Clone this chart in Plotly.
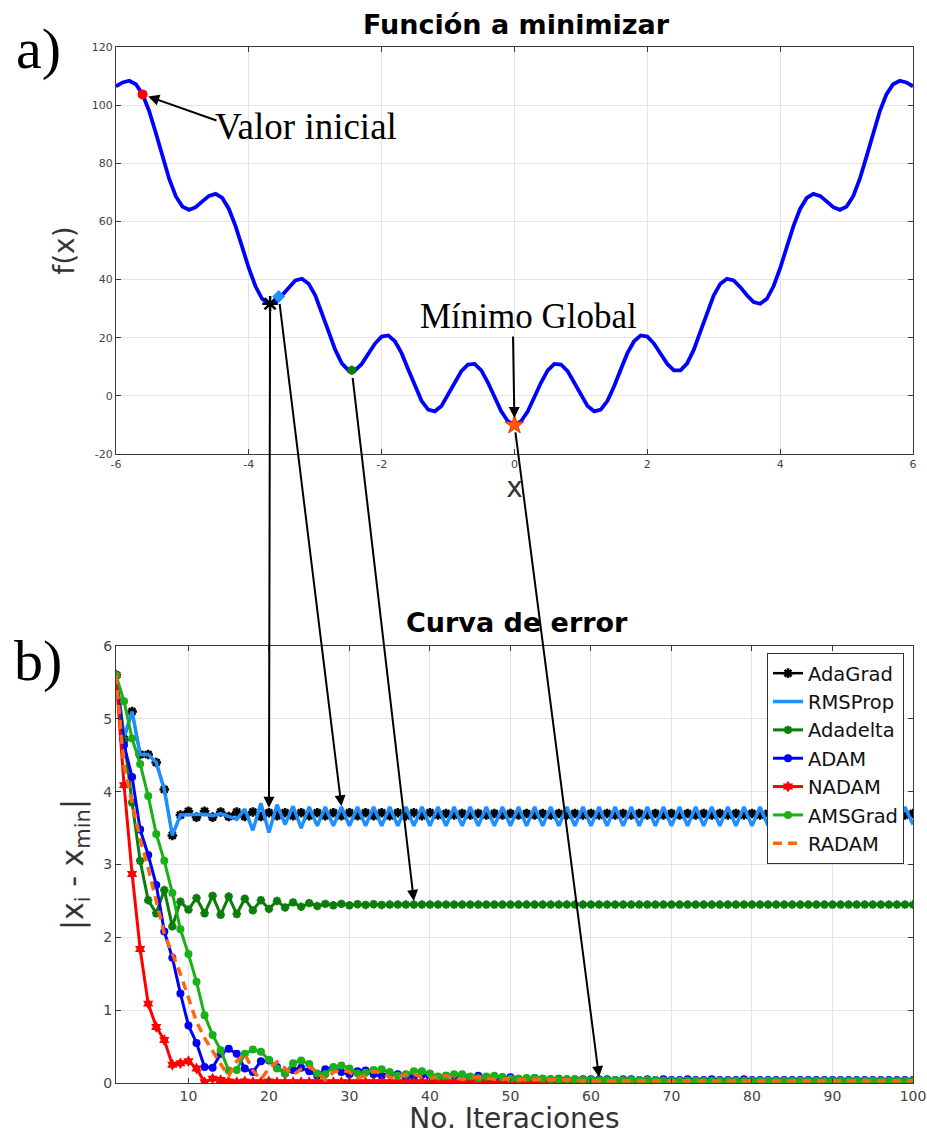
import plotly.graph_objects as go

# ---------------- data ----------------
# f(x) sampled on [-6, 6], step 0.1
X_F = [round(-6 + 0.1 * i, 1) for i in range(121)]
F_X = [106.5, 107.8, 108.4, 107.2, 103.7, 97.9, 90.4, 82.3, 74.7, 68.7,
       65.1, 64.0, 64.9, 66.9, 68.8, 69.5, 68.1, 64.3, 58.4, 51.2,
       43.9, 37.7, 33.4, 31.7, 32.3, 34.6, 37.4, 39.7, 40.3, 38.6,
       34.6, 28.8, 22.2, 15.9, 11.2, 8.8, 8.8, 11.0, 14.5, 18.0,
       20.4, 20.8, 18.8, 14.7, 9.1, 3.3, -1.7, -4.7, -5.3, -3.5,
       0.2, 4.5, 8.5, 10.8, 11.0, 8.8, 4.6, -0.4, -5.3, -8.7,
       -10.0,
       -8.7, -5.3, -0.4, 4.6, 8.8, 11.0, 10.8, 8.5, 4.5, 0.2,
       -3.5, -5.3, -4.7, -1.7, 3.3, 9.1, 14.7, 18.8, 20.8, 20.4,
       18.0, 14.5, 11.0, 8.8, 8.8, 11.2, 15.9, 22.2, 28.8, 34.6,
       38.6, 40.3, 39.7, 37.4, 34.6, 32.3, 31.7, 33.4, 37.7, 43.9,
       51.2, 58.4, 64.3, 68.1, 69.5, 68.8, 66.9, 64.9, 64.0, 65.1,
       68.7, 74.7, 82.3, 90.4, 97.9, 103.7, 107.2, 108.4, 107.8, 106.5]

TOP_XTICKS = [-6, -4, -2, 0, 2, 4, 6]
TOP_XLABELS = ["-6", "-4", "-2", "0", "2", "4", "6"]
TOP_YTICKS = [-20, 0, 20, 40, 60, 80, 100, 120]
TOP_YLABELS = ["-20", "0", "20", "40", "60", "80", "100", "120"]

# starting point and end points reached by the optimizers
X0, F0 = -5.6, 103.7
END_X = {"AdaGrad": -3.68, "RMSProp": -3.55, "Adadelta": -2.45, "Global": 0.0}
END_F = {"AdaGrad": 31.7, "RMSProp": 34.2, "Adadelta": 8.8, "Global": -10.0}

ITER = list(range(1, 101))
BOT_XTICKS = [10, 20, 30, 40, 50, 60, 70, 80, 90, 100]

ADAGRAD = [5.60, 4.72, 5.10, 4.51, 4.51, 4.40, 4.03, 3.40, 3.68, 3.73,
           3.65, 3.73, 3.65, 3.72, 3.66, 3.72, 3.66, 3.72, 3.66, 3.71,
           3.67, 3.71, 3.67, 3.71, 3.67, 3.71, 3.67, 3.71, 3.67, 3.71,
           3.67, 3.71, 3.67, 3.71, 3.67, 3.71, 3.67, 3.71, 3.67, 3.71,
           3.68, 3.70, 3.68, 3.70, 3.68, 3.70, 3.68, 3.70, 3.68, 3.70,
           3.68, 3.70, 3.68, 3.70, 3.68, 3.70, 3.68, 3.70, 3.68, 3.70,
           3.68, 3.70, 3.68, 3.70, 3.68, 3.70, 3.68, 3.70, 3.68, 3.70,
           3.68, 3.70, 3.68, 3.70, 3.68, 3.70, 3.68, 3.70, 3.68, 3.70,
           3.68, 3.70, 3.68, 3.70, 3.68, 3.70, 3.68, 3.70, 3.68, 3.70,
           3.68, 3.70, 3.68, 3.70, 3.68, 3.70, 3.68, 3.70, 3.68, 3.70]

RMSPROP = [5.60, 4.75, 5.10, 4.51, 4.51, 4.40, 4.03, 3.40, 3.68, 3.68,
           3.68, 3.69, 3.67, 3.70, 3.66, 3.62, 3.76, 3.47, 3.84, 3.44,
           3.82, 3.55, 3.80, 3.50, 3.79, 3.53, 3.79, 3.53, 3.79, 3.53,
           3.79, 3.53, 3.79, 3.53, 3.79, 3.53, 3.79, 3.53, 3.79, 3.53,
           3.79, 3.53, 3.79, 3.53, 3.79, 3.53, 3.79, 3.53, 3.79, 3.53,
           3.79, 3.53, 3.79, 3.53, 3.79, 3.53, 3.79, 3.53, 3.79, 3.53,
           3.79, 3.53, 3.79, 3.53, 3.79, 3.53, 3.79, 3.53, 3.79, 3.53,
           3.79, 3.53, 3.79, 3.53, 3.79, 3.53, 3.79, 3.53, 3.79, 3.53,
           3.79, 3.53, 3.79, 3.53, 3.79, 3.53, 3.79, 3.53, 3.79, 3.53,
           3.79, 3.53, 3.79, 3.53, 3.79, 3.53, 3.79, 3.54, 3.79, 3.55]

ADADELTA = [5.60, 4.70, 3.85, 3.05, 2.51, 2.33, 2.65, 2.15, 2.49, 2.38,
            2.54, 2.33, 2.57, 2.31, 2.56, 2.32, 2.53, 2.37, 2.51, 2.39,
            2.50, 2.41, 2.48, 2.42, 2.47, 2.43, 2.46, 2.44, 2.46, 2.44,
            2.455, 2.445, 2.455, 2.445, 2.45, 2.45, 2.45, 2.45, 2.45, 2.45,
            2.45, 2.45, 2.45, 2.45, 2.45, 2.45, 2.45, 2.45, 2.45, 2.45,
            2.45, 2.45, 2.45, 2.45, 2.45, 2.45, 2.45, 2.45, 2.45, 2.45,
            2.45, 2.45, 2.45, 2.45, 2.45, 2.45, 2.45, 2.45, 2.45, 2.45,
            2.45, 2.45, 2.45, 2.45, 2.45, 2.45, 2.45, 2.45, 2.45, 2.45,
            2.45, 2.45, 2.45, 2.45, 2.45, 2.45, 2.45, 2.45, 2.45, 2.45,
            2.45, 2.45, 2.45, 2.45, 2.45, 2.45, 2.45, 2.45, 2.45, 2.45]

ADAM = [5.60, 4.64, 4.20, 3.48, 3.13, 2.72, 2.08, 1.72, 1.23, 0.79,
        0.55, 0.22, 0.21, 0.40, 0.47, 0.40, 0.20, 0.15, 0.30, 0.31,
        0.22, 0.13, 0.18, 0.21, 0.16, 0.10, 0.19, 0.21, 0.15, 0.12,
        0.16, 0.17, 0.12, 0.10, 0.13, 0.12, 0.08, 0.09, 0.11, 0.09,
        0.07, 0.10, 0.10, 0.08, 0.07, 0.10, 0.08, 0.07, 0.08, 0.08,
        0.06, 0.06, 0.07, 0.06, 0.05, 0.06, 0.05, 0.05, 0.05, 0.05,
        0.05, 0.05, 0.04, 0.05, 0.05, 0.04, 0.05, 0.04, 0.05, 0.04,
        0.04, 0.05, 0.04, 0.04, 0.05, 0.04, 0.04, 0.04, 0.05, 0.04,
        0.04, 0.04, 0.04, 0.04, 0.04, 0.04, 0.04, 0.04, 0.04, 0.04,
        0.04, 0.04, 0.04, 0.04, 0.04, 0.04, 0.04, 0.04, 0.04, 0.04]

NADAM = [5.60, 4.09, 2.87, 1.84, 1.09, 0.77, 0.59, 0.25, 0.27, 0.30,
         0.20, 0.01, 0.06, 0.04, 0.02, 0.01, 0.02, 0.01, 0.01, 0.02,
         0.01, 0.01, 0.01, 0.01, 0.01, 0.01, 0.01, 0.01, 0.01, 0.01,
         0.01, 0.01, 0.01, 0.01, 0.01, 0.01, 0.01, 0.01, 0.01, 0.01,
         0.01, 0.01, 0.01, 0.01, 0.01, 0.01, 0.01, 0.01, 0.01, 0.01,
         0.01, 0.01, 0.01, 0.01, 0.01, 0.01, 0.01, 0.01, 0.01, 0.01,
         0.01, 0.01, 0.01, 0.01, 0.01, 0.01, 0.01, 0.01, 0.01, 0.01,
         0.01, 0.01, 0.01, 0.01, 0.01, 0.01, 0.01, 0.01, 0.01, 0.01,
         0.01, 0.01, 0.01, 0.01, 0.01, 0.01, 0.01, 0.01, 0.01, 0.01,
         0.01, 0.01, 0.01, 0.01, 0.01, 0.01, 0.01, 0.01, 0.01, 0.01]

AMSGRAD = [5.60, 5.24, 4.73, 4.38, 3.94, 3.42, 3.05, 2.61, 2.11, 1.77,
           1.39, 0.93, 0.66, 0.45, 0.17, 0.18, 0.40, 0.46, 0.43, 0.32,
           0.20, 0.13, 0.27, 0.31, 0.26, 0.13, 0.12, 0.22, 0.24, 0.20,
           0.13, 0.14, 0.18, 0.19, 0.15, 0.10, 0.12, 0.16, 0.16, 0.13,
           0.09, 0.10, 0.12, 0.12, 0.09, 0.07, 0.09, 0.10, 0.08, 0.06,
           0.06, 0.07, 0.07, 0.06, 0.05, 0.05, 0.05, 0.05, 0.04, 0.04,
           0.04, 0.04, 0.04, 0.04, 0.04, 0.04, 0.04, 0.04, 0.03, 0.03,
           0.03, 0.03, 0.03, 0.03, 0.03, 0.03, 0.03, 0.03, 0.03, 0.03,
           0.03, 0.03, 0.03, 0.03, 0.03, 0.03, 0.03, 0.03, 0.03, 0.03,
           0.03, 0.03, 0.03, 0.03, 0.03, 0.03, 0.03, 0.03, 0.03, 0.03]

RADAM = [5.60, 4.35, 3.85, 3.35, 2.95, 2.50, 2.05, 1.78, 1.50, 1.17,
         0.84, 0.62, 0.43, 0.26, 0.10, 0.30, 0.40, 0.17, 0.05, 0.20,
         0.29, 0.20, 0.11, 0.19, 0.22, 0.15, 0.04, 0.15, 0.18, 0.15,
         0.07, 0.10, 0.16, 0.14, 0.08, 0.07, 0.12, 0.12, 0.08, 0.06,
         0.09, 0.10, 0.08, 0.05, 0.07, 0.08, 0.07, 0.05, 0.05, 0.06,
         0.05, 0.04, 0.05, 0.05, 0.04, 0.04, 0.04, 0.04, 0.03, 0.035,
         0.03, 0.03, 0.03, 0.03, 0.03, 0.03, 0.03, 0.03, 0.03, 0.03,
         0.03, 0.03, 0.03, 0.03, 0.03, 0.03, 0.03, 0.03, 0.03, 0.03,
         0.03, 0.03, 0.03, 0.03, 0.03, 0.03, 0.03, 0.03, 0.03, 0.03,
         0.03, 0.03, 0.03, 0.03, 0.03, 0.03, 0.03, 0.03, 0.03, 0.03]

# ---------------- layout geometry ----------------
W, H = 927, 1135
ML, MR, MT, MB = 116, 14, 47, 52
PW, PH = W - ML - MR, H - MT - MB
TOP_DOM = [0.6071, 1.0]
BOT_DOM = [0.0, 0.4218]
TOP_XR, TOP_YR = [-6, 6], [-20, 120]
BOT_XR, BOT_YR = [1, 100], [0, 6]


def to_px(x, y, xr, yr, dom):
    """Data coordinates of a subplot -> page pixels."""
    px = ML + (x - xr[0]) / (xr[1] - xr[0]) * PW
    y0 = MT + (1 - dom[1]) * PH
    h = (dom[1] - dom[0]) * PH
    py = y0 + (yr[1] - y) / (yr[1] - yr[0]) * h
    return px, py


def top_px(x, y):
    return to_px(x, y, TOP_XR, TOP_YR, TOP_DOM)


def bot_px(x, y):
    return to_px(x, y, BOT_XR, BOT_YR, BOT_DOM)


def paper_x(px):
    return (px - ML) / PW


def paper_y(py):
    return (H - MB - py) / PH


SANS = "DejaVu Sans"
SERIF = "Liberation Serif"

fig = go.Figure()

# ---------------- top panel ----------------
fig.add_trace(go.Scatter(x=X_F, y=F_X, mode="lines", line=dict(color="#0000ff", width=3.8),
                         showlegend=False, xaxis="x", yaxis="y"))
fig.add_trace(go.Scatter(x=[X0], y=[F0], mode="markers",
                         marker=dict(color="#ff0000", size=10, symbol="circle"),
                         showlegend=False, xaxis="x", yaxis="y"))
fig.add_trace(go.Scatter(x=[END_X["AdaGrad"]], y=[END_F["AdaGrad"]], mode="markers",
                         marker=dict(color="black", size=13, symbol="asterisk-open",
                                     line=dict(color="black", width=2.5)),
                         showlegend=False, xaxis="x", yaxis="y"))
fig.add_trace(go.Scatter(x=[END_X["RMSProp"]], y=[END_F["RMSProp"]], mode="markers",
                         marker=dict(color="#1e90ff", size=10, symbol="diamond"),
                         showlegend=False, xaxis="x", yaxis="y"))
fig.add_trace(go.Scatter(x=[END_X["Adadelta"]], y=[END_F["Adadelta"]], mode="markers",
                         marker=dict(color="#0a7d0a", size=10, symbol="hexagon"),
                         showlegend=False, xaxis="x", yaxis="y"))
fig.add_trace(go.Scatter(x=[END_X["Global"]], y=[END_F["Global"]], mode="markers",
                         marker=dict(color="#ff5a00", size=14, symbol="star",
                                     line=dict(color="#ff2a00", width=1)),
                         showlegend=False, xaxis="x", yaxis="y"))

# ---------------- bottom panel ----------------
series = [
    ("AdaGrad", ADAGRAD, dict(color="black", width=2.5),
     dict(symbol="asterisk-open", size=8, color="black", line=dict(color="black", width=2.5))),
    ("RMSProp", RMSPROP, dict(color="#1e8fff", width=3.5), None),
    ("Adadelta", ADADELTA, dict(color="#0a7d0a", width=3),
     dict(symbol="asterisk-open", size=7, color="#0a7d0a", line=dict(color="#0a7d0a", width=2.5))),
    ("ADAM", ADAM, dict(color="#0000ff", width=3),
     dict(symbol="circle", size=8, color="#0000ff")),
    ("NADAM", NADAM, dict(color="#ff0000", width=3),
     dict(symbol="hexagram", size=9, color="#ff0000")),
    ("AMSGrad", AMSGRAD, dict(color="#19b019", width=3),
     dict(symbol="circle", size=8, color="#19b019")),
    ("RADAM", RADAM, dict(color="#ff6611", width=3.5, dash="9px,6px"), None),
]
for name, vals, line, marker in series:
    fig.add_trace(go.Scatter(
        x=ITER, y=vals, name=name,
        mode="lines+markers" if marker else "lines",
        line=line, marker=marker,
        xaxis="x2", yaxis="y2",
    ))

axis_common = dict(
    showgrid=True, gridcolor="#e3e3e3", gridwidth=1,
    showline=True, linecolor="#3a3a3a", linewidth=1, mirror="ticks",
    ticks="inside", ticklen=5, tickcolor="#3a3a3a",
    zeroline=False, automargin=False,
)

fig.update_layout(
    width=W, height=H,
    margin=dict(l=ML, r=MR, t=MT, b=MB),
    paper_bgcolor="white", plot_bgcolor="white",
    font=dict(family=SANS, color="#333333"),
    xaxis=dict(domain=[0, 1], range=TOP_XR, anchor="y",
               tickvals=TOP_XTICKS, ticktext=TOP_XLABELS,
               tickfont=dict(size=11, color="#444444"), ticklabeloverflow="allow",
               title=dict(text="x", font=dict(size=28, color="#333333"), standoff=4),
               **axis_common),
    yaxis=dict(domain=TOP_DOM, range=TOP_YR, anchor="x",
               tickvals=TOP_YTICKS, ticktext=TOP_YLABELS,
               tickfont=dict(size=11, color="#444444"),
               title=dict(text="f(x)", font=dict(size=28, color="#333333"), standoff=8),
               **axis_common),
    xaxis2=dict(domain=[0, 1], range=BOT_XR, anchor="y2",
                tickvals=BOT_XTICKS,
                tickfont=dict(size=14, color="#444444"), ticklabeloverflow="allow",
                title=dict(text="No. Iteraciones", font=dict(size=28, color="#333333"), standoff=2),
                **axis_common),
    yaxis2=dict(domain=BOT_DOM, range=BOT_YR, anchor="x2", dtick=1,
                tickfont=dict(size=14, color="#444444"),
                title=dict(text="|x<sub>i</sub> - x<sub>min</sub>|",
                           font=dict(size=30, color="#333333"), standoff=10),
                **axis_common),
    legend=dict(x=paper_x(904), xanchor="right", y=paper_y(653), yanchor="top",
                bgcolor="white", bordercolor="#333333", borderwidth=1,
                font=dict(family=SANS, size=19.5, color="#111111"),
                itemwidth=30, tracegroupgap=0),
    showlegend=True,
)

annotations = []


def label(text, px, py, family, size):
    return dict(text=text, xref="paper", yref="paper", x=paper_x(px), y=paper_y(py),
                xanchor="center", yanchor="middle", showarrow=False,
                font=dict(family=family, size=size, color="black"))


# titles and panel labels
annotations.append(label("<b>Función a minimizar</b>", 516, 25, SANS, 27))
annotations.append(label("<b>Curva de error</b>", 517, 622, SANS, 27))
annotations.append(label("a)", 38, 48, SERIF, 58))
annotations.append(label("b)", 38, 660, SERIF, 58))
annotations.append(label("Valor inicial", 306, 126, SERIF, 37))
annotations.append(label("Mínimo Global", 528, 316, SERIF, 35))

ARROW = dict(text="", showarrow=True, arrowhead=2, arrowsize=1.1, arrowwidth=2,
             arrowcolor="black")

# arrow: label -> starting point
hx, hy = top_px(X0, F0)
annotations.append(dict(ARROW, x=X0, y=F0, xref="x", yref="y",
                        ax=218 - hx, ay=121 - hy, standoff=6))
# arrow: label -> global minimum
hx, hy = top_px(END_X["Global"], END_F["Global"])
annotations.append(dict(ARROW, x=END_X["Global"], y=END_F["Global"], xref="x", yref="y",
                        ax=513 - hx, ay=335 - hy, standoff=7))

# arrows linking each end point on f(x) with its error curve
links = [("AdaGrad", 20, 3.78), ("RMSProp", 29, 3.80), ("Adadelta", 38, 2.50), ("Global", 61, 0.08)]
for key, it, err in links:
    tx, ty = top_px(END_X[key], END_F[key])
    hx, hy = bot_px(it, err)
    annotations.append(dict(ARROW, x=it, y=err, xref="x2", yref="y2",
                            ax=tx - hx, ay=ty - hy, startstandoff=6))

fig.update_layout(annotations=annotations)

fig.write_html("out.html")
